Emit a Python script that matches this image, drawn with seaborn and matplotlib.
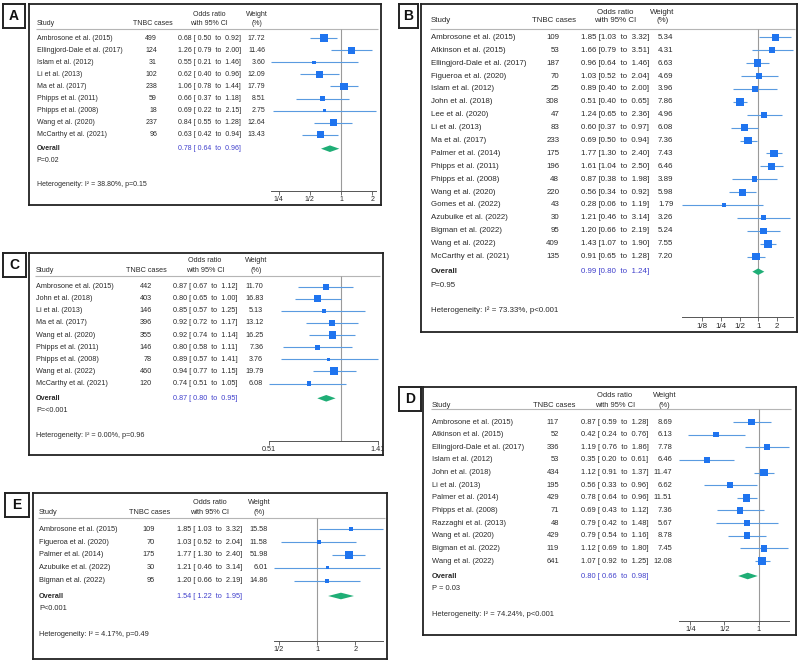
import numpy as np
import matplotlib
matplotlib.use('Agg')
import matplotlib.pyplot as plt
from matplotlib.ticker import NullLocator
import seaborn as sns

# ---------------- Panel A
studies_a = ['Ambrosone et al. (2015)', 'Ellingjord-Dale et al. (2017)', 'Islam et al. (2012)',
             'Li et al. (2013)', 'Ma et al. (2017)', 'Phipps et al. (2011)', 'Phipps et al. (2008)',
             'Wang et al. (2020)', 'McCarthy et al. (2021)']
cases_a = [499, 124, 31, 102, 238, 59, 18, 237, 96]
or_a = [0.68, 1.26, 0.55, 0.62, 1.06, 0.66, 0.69, 0.84, 0.63]
lo_a = [0.50, 0.79, 0.21, 0.40, 0.78, 0.37, 0.22, 0.55, 0.42]
hi_a = [0.92, 2.00, 1.46, 0.96, 1.44, 1.18, 2.15, 1.28, 0.94]
wt_a = [17.72, 11.46, 3.60, 12.09, 17.79, 8.51, 2.75, 12.64, 13.43]
overall_a = [0.78, 0.64, 0.96]
pval_a = 'P=0.02'
het_a = 'Heterogeneity: I² = 38.80%, p=0.15'
ticks_a = [0.25, 0.5, 1, 2]
ticklabels_a = ['1/4', '1/2', '1', '2']

# ---------------- Panel B
studies_b = ['Ambrosone et al. (2015)', 'Atkinson et al. (2015)', 'Ellingjord-Dale et al. (2017)',
             'Figueroa et al. (2020)', 'Islam et al. (2012)', 'John et al. (2018)', 'Lee et al. (2020)',
             'Li et al. (2013)', 'Ma et al. (2017)', 'Palmer et al. (2014)', 'Phipps et al. (2011)',
             'Phipps et al. (2008)', 'Wang et al. (2020)', 'Gomes et al. (2022)', 'Azubuike et al. (2022)',
             'Bigman et al. (2022)', 'Wang et al. (2022)', 'McCarthy et al. (2021)']
cases_b = [109, 53, 187, 70, 25, 308, 47, 83, 233, 175, 196, 48, 220, 43, 30, 95, 409, 135]
or_b = [1.85, 1.66, 0.96, 1.03, 0.89, 0.51, 1.24, 0.60, 0.69, 1.77, 1.61, 0.87, 0.56, 0.28, 1.21, 1.20, 1.43, 0.91]
lo_b = [1.03, 0.79, 0.64, 0.52, 0.40, 0.40, 0.65, 0.37, 0.50, 1.30, 1.04, 0.38, 0.34, 0.06, 0.46, 0.66, 1.07, 0.65]
hi_b = [3.32, 3.51, 1.46, 2.04, 2.00, 0.65, 2.36, 0.97, 0.94, 2.40, 2.50, 1.98, 0.92, 1.19, 3.14, 2.19, 1.90, 1.28]
wt_b = [5.34, 4.31, 6.63, 4.69, 3.96, 7.86, 4.96, 6.08, 7.36, 7.43, 6.46, 3.89, 5.98, 1.79, 3.26, 5.24, 7.55, 7.20]
overall_b = [0.99, 0.80, 1.24]
pval_b = 'P=0.95'
het_b = 'Heterogeneity: I² = 73.33%, p<0.001'
ticks_b = [0.125, 0.25, 0.5, 1, 2]
ticklabels_b = ['1/8', '1/4', '1/2', '1', '2']

# ---------------- Panel C
studies_c = ['Ambrosone et al. (2015)', 'John et al. (2018)', 'Li et al. (2013)', 'Ma et al. (2017)',
             'Wang et al. (2020)', 'Phipps et al. (2011)', 'Phipps et al. (2008)', 'Wang et al. (2022)',
             'McCarthy et al. (2021)']
cases_c = [442, 403, 146, 396, 355, 146, 78, 460, 120]
or_c = [0.87, 0.80, 0.85, 0.92, 0.92, 0.80, 0.89, 0.94, 0.74]
lo_c = [0.67, 0.65, 0.57, 0.72, 0.74, 0.58, 0.57, 0.77, 0.51]
hi_c = [1.12, 1.00, 1.25, 1.17, 1.14, 1.11, 1.41, 1.15, 1.05]
wt_c = [11.70, 16.83, 5.13, 13.12, 16.25, 7.36, 3.76, 19.79, 6.08]
overall_c = [0.87, 0.80, 0.95]
pval_c = 'P=<0.001'
het_c = 'Heterogeneity: I² = 0.00%, p=0.96'
ticks_c = [0.51, 1.41]
ticklabels_c = ['0.51', '1.41']

# ---------------- Panel D
studies_d = ['Ambrosone et al. (2015)', 'Atkinson et al. (2015)', 'Ellingjord-Dale et al. (2017)',
             'Islam et al. (2012)', 'John et al. (2018)', 'Li et al. (2013)', 'Palmer et al. (2014)',
             'Phipps et al. (2008)', 'Razzaghi et al. (2013)', 'Wang et al. (2020)', 'Bigman et al. (2022)',
             'Wang et al. (2022)']
cases_d = [117, 52, 336, 53, 434, 195, 429, 71, 48, 429, 119, 641]
or_d = [0.87, 0.42, 1.19, 0.35, 1.12, 0.56, 0.78, 0.69, 0.79, 0.79, 1.12, 1.07]
lo_d = [0.59, 0.24, 0.76, 0.20, 0.91, 0.33, 0.64, 0.43, 0.42, 0.54, 0.69, 0.92]
hi_d = [1.28, 0.76, 1.86, 0.61, 1.37, 0.96, 0.96, 1.12, 1.48, 1.16, 1.80, 1.25]
wt_d = [8.69, 6.13, 7.78, 6.46, 11.47, 6.62, 11.51, 7.36, 5.67, 8.78, 7.45, 12.08]
overall_d = [0.80, 0.66, 0.98]
pval_d = 'P = 0.03'
het_d = 'Heterogeneity: I² = 74.24%, p<0.001'
ticks_d = [0.25, 0.5, 1]
ticklabels_d = ['1/4', '1/2', '1']

# ---------------- Panel E
studies_e = ['Ambrosone et al. (2015)', 'Figueroa et al. (2020)', 'Palmer et al. (2014)',
             'Azubuike et al. (2022)', 'Bigman et al. (2022)']
cases_e = [109, 70, 175, 30, 95]
or_e = [1.85, 1.03, 1.77, 1.21, 1.20]
lo_e = [1.03, 0.52, 1.30, 0.46, 0.66]
hi_e = [3.32, 2.04, 2.40, 3.14, 2.19]
wt_e = [15.58, 11.58, 51.98, 6.01, 14.86]
overall_e = [1.54, 1.22, 1.95]
pval_e = 'P<0.001'
het_e = 'Heterogeneity: I² = 4.17%, p=0.49'
ticks_e = [0.5, 1, 2]
ticklabels_e = ['1/2', '1', '2']

W, H = 800, 662
TXT = '#2a2a2a'
SQ_COLOR = '#1f74ef'
CI_COLOR = '#5a9be0'
DIA_COLOR = '#1fae76'
OV_COLOR = '#4040cc'

# pixel layout of each panel
LAYOUT = {
    'A': dict(box=(29, 4, 381, 205), lab=(3, 4, 25, 28), fs=5.0, y_h1=14, y_h2=23.3, y_line=29.5,
              row0=38.3, step=12.05, y_ov=148.7, y_p=161, y_het=184.3, y_ax=191,
              x_st=36.7, x_n=157, x_nh=152.5, x_ci=178, x_cih=209, x_w=265, x_wh=257, fx=(270.7, 375.7), pad=' '),
    'B': dict(box=(421, 4, 797, 332), lab=(399, 4, 418, 28), fs=5.65, y_h1=12.3, y_h2=20.7, y_line=28.5,
              row0=37.3, step=12.9, y_ov=271.7, y_p=285.3, y_het=310.3, y_ax=317.3,
              x_st=430.7, x_n=559.3, x_nh=554, x_ci=581, x_cih=615, x_w=673.3, x_wh=662.5, fx=(681.7, 792.7), pad=''),
    'C': dict(box=(29, 253, 383, 455), lab=(3, 253, 26, 277), fs=5.25, y_h1=260.7, y_h2=270.7, y_line=275.7,
              row0=286.7, step=12.1, y_ov=398.3, y_p=410, y_het=435.3, y_ax=440.7,
              x_st=36, x_n=152, x_nh=146.7, x_ci=172.7, x_cih=205, x_w=263.3, x_wh=255.7, fx=(269.3, 377.7), pad=' '),
    'D': dict(box=(423, 387, 796, 635), lab=(399, 387, 421, 411), fs=5.4, y_h1=395, y_h2=405, y_line=409.3,
              row0=422, step=12.64, y_ov=576, y_p=589, y_het=614.3, y_ax=621,
              x_st=431.7, x_n=559, x_nh=554, x_ci=580.7, x_cih=615, x_w=672.3, x_wh=664.5, fx=(679.3, 789.3), pad=' '),
    'E': dict(box=(33, 493, 387, 659), lab=(5, 493, 29, 517), fs=5.3, y_h1=502.7, y_h2=512.7, y_line=518.3,
              row0=529.3, step=12.85, y_ov=596, y_p=608.7, y_het=634.7, y_ax=641,
              x_st=39, x_n=155, x_nh=150, x_ci=176.7, x_cih=210, x_w=267.7, x_wh=259.3, fx=(274.3, 383.3), pad=' '),
}


def frac(x0, y0, x1, y1):
    return [x0 / W, 1 - y1 / H, (x1 - x0) / W, (y1 - y0) / H]


def ci_text(est, lo, hi, pad):
    return f'{est:.2f} [{pad}{lo:.2f}  to  {hi:.2f}]'


def draw_panel(fig, letter, studies, cases, ors, los, his, wts, overall, pval, het, ticks, ticklabels):
    L = LAYOUT[letter]
    x0, y0, x1, y1 = L['box']
    fs = L['fs']

    # letter tag
    ax_l = fig.add_axes(frac(*L['lab']))
    ax_l.set_xticks([])
    ax_l.set_yticks([])
    for sp in ax_l.spines.values():
        sp.set_linewidth(1.4)
        sp.set_color('#222222')
    ax_l.text(0.5, 0.5, letter, ha='center', va='center', fontsize=10, fontweight='bold', color='#111111')

    # panel frame, pixel coordinates inside
    ax_b = fig.add_axes(frac(x0, y0, x1, y1))
    ax_b.set_xlim(x0, x1)
    ax_b.set_ylim(y1, y0)
    ax_b.set_xticks([])
    ax_b.set_yticks([])
    for sp in ax_b.spines.values():
        sp.set_linewidth(1.3)
        sp.set_color('#222222')

    kw = dict(fontsize=fs, color=TXT, va='center')
    ax_b.text(L['x_st'], L['y_h2'], 'Study', ha='left', **kw)
    ax_b.text(L['x_nh'], L['y_h2'], 'TNBC cases', ha='center', **kw)
    ax_b.text(L['x_cih'], L['y_h1'], 'Odds ratio', ha='center', **kw)
    ax_b.text(L['x_cih'], L['y_h2'], 'with 95% CI', ha='center', **kw)
    ax_b.text(L['x_wh'], L['y_h1'], 'Weight', ha='center', **kw)
    ax_b.text(L['x_wh'], L['y_h2'], '(%)', ha='center', **kw)
    ax_b.hlines(L['y_line'], L['x_st'] - 1, L['fx'][1] + 2, color='#b5b5b5', lw=0.8)

    rows = L['row0'] + L['step'] * np.arange(len(studies))
    for y, s, n, e, lo, hi, w in zip(rows, studies, cases, ors, los, his, wts):
        ax_b.text(L['x_st'], y, s, ha='left', **kw)
        ax_b.text(L['x_n'], y, str(n), ha='right', **kw)
        ax_b.text(L['x_ci'], y, ci_text(e, lo, hi, L['pad']), ha='left', **kw)
        ax_b.text(L['x_w'], y, f'{w:.2f}', ha='right', **kw)

    ax_b.text(L['x_st'], L['y_ov'], 'Overall', ha='left', fontweight='bold', **kw)
    ax_b.text(L['x_ci'], L['y_ov'], ci_text(*overall, L['pad']), ha='left', fontsize=fs,
              color=OV_COLOR, va='center')
    ax_b.text(L['x_st'], L['y_p'], pval, ha='left', **kw)
    ax_b.text(L['x_st'], L['y_het'], het, ha='left', **kw)

    # forest part
    fx0, fx1 = L['fx']
    ax_f = fig.add_axes(frac(fx0, y0, fx1, y1))
    ax_f.set_facecolor('none')
    ax_f.set_xscale('log')

    ax_f.vlines(1, L['y_line'], L['y_ax'], color='#9a9a9a', lw=0.8, zorder=1)
    ax_f.hlines(rows, los, his, color=CI_COLOR, lw=0.8, zorder=2, clip_on=False)
    sns.scatterplot(x=ors, y=rows, size=wts, sizes=(0, 33), size_norm=(0, max(wts)),
                    marker='s', color=SQ_COLOR, linewidth=0, legend=False, ax=ax_f,
                    zorder=3, clip_on=False)
    est, olo, ohi = overall
    yo, dh = L['y_ov'], 3.3
    ax_f.fill([olo, est, ohi, est], [yo, yo - dh, yo, yo + dh], color=DIA_COLOR, lw=0, zorder=3)

    ax_f.set_xlim(min(los), max(his))
    ax_f.set_ylim(y1, y0)
    ax_f.set_xlabel('')
    ax_f.set_ylabel('')
    ax_f.set_yticks([])
    for side in ['top', 'left', 'right']:
        ax_f.spines[side].set_visible(False)
    ax_f.spines['bottom'].set_position(('data', L['y_ax']))
    ax_f.spines['bottom'].set_linewidth(0.7)
    ax_f.spines['bottom'].set_color('#555555')
    ax_f.set_xticks(ticks, ticklabels)
    ax_f.xaxis.set_minor_locator(NullLocator())
    ax_f.tick_params(axis='x', bottom=True, direction='out', length=3, width=0.6, pad=0.8,
                     labelsize=fs, colors='#555555', labelcolor=TXT)


sns.set_theme(style='white')
plt.rcParams['font.family'] = ['Liberation Sans', 'DejaVu Sans']

fig = plt.figure(figsize=(8, 6.62), dpi=100)
fig.patch.set_facecolor('white')

draw_panel(fig, 'A', studies_a, cases_a, or_a, lo_a, hi_a, wt_a, overall_a, pval_a, het_a, ticks_a, ticklabels_a)
draw_panel(fig, 'B', studies_b, cases_b, or_b, lo_b, hi_b, wt_b, overall_b, pval_b, het_b, ticks_b, ticklabels_b)
draw_panel(fig, 'C', studies_c, cases_c, or_c, lo_c, hi_c, wt_c, overall_c, pval_c, het_c, ticks_c, ticklabels_c)
draw_panel(fig, 'D', studies_d, cases_d, or_d, lo_d, hi_d, wt_d, overall_d, pval_d, het_d, ticks_d, ticklabels_d)
draw_panel(fig, 'E', studies_e, cases_e, or_e, lo_e, hi_e, wt_e, overall_e, pval_e, het_e, ticks_e, ticklabels_e)

fig.savefig('out.png', dpi=100)
plt.close(fig)
